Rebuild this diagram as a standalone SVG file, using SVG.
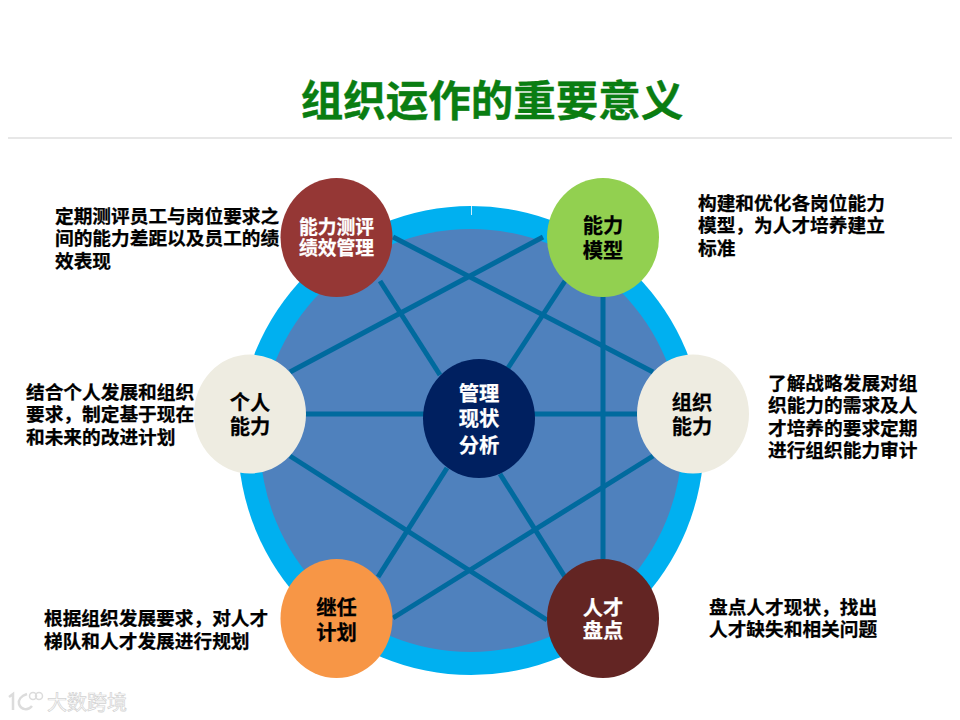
<svg xmlns="http://www.w3.org/2000/svg" width="960" height="720" viewBox="0 0 960 720">
<style>
text{font-family:"Noto Sans CJK SC","Liberation Sans",sans-serif;font-weight:700}
.lbl{font-size:18.7px;fill:#000;stroke:#000;stroke-width:.25}
.n{font-size:20.3px;text-anchor:middle;fill:#000;stroke:#000;stroke-width:.25}
.w{fill:#fff;stroke:#fff}
.s{font-size:18.8px}
.con line{stroke:#006a9e;stroke-width:5;fill:none}
.wm{font-size:20px;fill:#fff;stroke:#d2d2d2;stroke-width:.7;font-weight:400}
.lg{fill:none;stroke:#dcdcdc}
</style>
<rect width="960" height="720" fill="#fff"/>
<text id="title" x="492" y="116" text-anchor="middle" font-size="42.5" fill="#0a7d12" stroke="#0a7d12" stroke-width=".4">组织运作的重要意义</text>
<line x1="8" y1="138" x2="952" y2="138" stroke="#cfcfcf" stroke-width="1"/>
<g id="wheel">
<ellipse cx="471" cy="440.5" rx="233" ry="234.5" fill="#00b0f0"/>
<ellipse cx="471" cy="440.5" rx="211" ry="211.5" fill="#4f81bd"/>
<line x1="471.5" y1="206" x2="471.5" y2="215" stroke="#cfeefb" stroke-width="1"/>
</g>
<g id="connectors" class="con">
<line x1="393" y1="237" x2="653" y2="372"/>
<line x1="543" y1="237" x2="290" y2="372"/>
<line x1="380" y1="281" x2="440" y2="375"/>
<line x1="565" y1="281" x2="508" y2="368"/>
<line x1="603" y1="297" x2="603" y2="559"/>
<line x1="306" y1="414" x2="637" y2="414"/>
<line x1="447" y1="468" x2="378" y2="577"/>
<line x1="500" y1="474" x2="565" y2="577"/>
<line x1="290" y1="456" x2="547" y2="620"/>
<line x1="653" y1="456" x2="393" y2="618"/>
</g>
<g id="node-center"><ellipse cx="479" cy="418.5" rx="56" ry="59.5" fill="#002060"/>
<text class="n w"><tspan x="479" y="401">管理</tspan><tspan x="479" y="426">现状</tspan><tspan x="479" y="453">分析</tspan></text></g>
<g id="node-ceping"><ellipse cx="336.5" cy="237.5" rx="56" ry="59.5" fill="#953735"/>
<text class="n w s"><tspan x="336.5" y="234">能力测评</tspan><tspan x="336.5" y="255">绩效管理</tspan></text></g>
<g id="node-moxing"><ellipse cx="603" cy="237.5" rx="56" ry="59.5" fill="#92d050"/>
<text class="n"><tspan x="603" y="233">能力</tspan><tspan x="603" y="258">模型</tspan></text></g>
<g id="node-geren"><ellipse cx="250" cy="414" rx="56" ry="59.5" fill="#eeece1"/>
<text class="n"><tspan x="250" y="410">个人</tspan><tspan x="250" y="434">能力</tspan></text></g>
<g id="node-zuzhi"><ellipse cx="693" cy="414" rx="56" ry="59.5" fill="#eeece1"/>
<text class="n"><tspan x="692" y="410">组织</tspan><tspan x="692" y="434">能力</tspan></text></g>
<g id="node-jiren"><ellipse cx="336.5" cy="618.5" rx="56" ry="59.5" fill="#f79646"/>
<text class="n"><tspan x="336.5" y="615">继任</tspan><tspan x="336.5" y="640">计划</tspan></text></g>
<g id="node-pandian"><ellipse cx="603" cy="618.5" rx="56" ry="59.5" fill="#632523"/>
<text class="n w"><tspan x="603" y="615">人才</tspan><tspan x="603" y="638">盘点</tspan></text></g>
<g id="labels">
<text class="lbl"><tspan x="55" y="223">定期测评员工与岗位要求之</tspan><tspan x="55" y="245">间的能力差距以及员工的绩</tspan><tspan x="55" y="268">效表现</tspan></text>
<text class="lbl"><tspan x="698" y="210">构建和优化各岗位能力</tspan><tspan x="698" y="232">模型，为人才培养建立</tspan><tspan x="698" y="255">标准</tspan></text>
<text class="lbl"><tspan x="26" y="399">结合个人发展和组织</tspan><tspan x="26" y="421">要求，制定基于现在</tspan><tspan x="26" y="444">和未来的改进计划</tspan></text>
<text class="lbl"><tspan x="768" y="390">了解战略发展对组</tspan><tspan x="768" y="412">织能力的需求及人</tspan><tspan x="768" y="435">才培养的要求定期</tspan><tspan x="768" y="457">进行组织能力审计</tspan></text>
<text class="lbl"><tspan x="44" y="625">根据组织发展要求，对人才</tspan><tspan x="44" y="648">梯队和人才发展进行规划</tspan></text>
<text class="lbl"><tspan x="709" y="614">盘点人才现状，找出</tspan><tspan x="709" y="636">人才缺失和相关问题</tspan></text>
</g>
<g id="watermark">
<path class="lg" stroke-width="2.5" d="M9 697l4-3v16"/>
<path class="lg" stroke-width="2.5" d="M27 694c-6 2-9 6-8 10 2 6 9 7 13 2"/>
<circle class="lg" cx="33" cy="696" r="3.5" stroke-width="1.5"/><circle class="lg" cx="39" cy="696" r="3.5" stroke-width="1.5"/>
<text class="wm" x="47" y="710">大数跨境</text>
</g>
</svg>
